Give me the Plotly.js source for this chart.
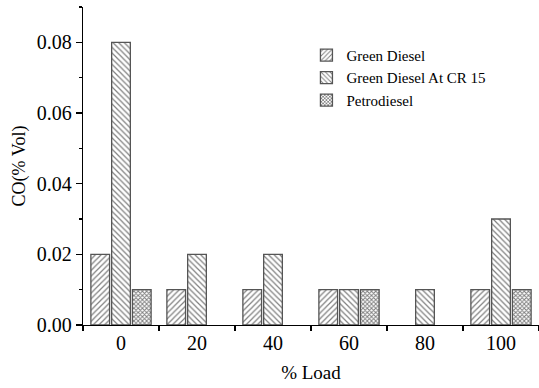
<!DOCTYPE html>
<html>
<head>
<meta charset="utf-8">
<script src="https://cdn.plot.ly/plotly-3.0.1.min.js"></script>
<style>html,body{margin:0;padding:0;background:#fff;}#chart{width:539px;height:388px;}</style>
</head>
<body>
<div id="chart"></div>
<script>
const loads = ['0', '20', '40', '60', '80', '100'];
// null = no bar drawn at that load
const greenDiesel = [0.02, 0.01, 0.01, 0.01, null, 0.01];
const greenDieselCR15 = [0.08, 0.02, 0.02, 0.01, 0.01, 0.03];
const petrodiesel = [0.01, null, null, 0.01, null, 0.01];
const seriesNames = ['Green Diesel', 'Green Diesel At CR 15', 'Petrodiesel'];

function bar(name, y, shape, size, solidity) {
  return {
    type: 'bar', name: name, x: loads, y: y,
    marker: {
      color: 'white',
      line: {color: '#555', width: 1.3},
      pattern: {shape: shape, fgcolor: 'black', bgcolor: 'white', fillmode: 'overlay', size: size, solidity: solidity}
    }
  };
}

const data = [
  bar(seriesNames[0], greenDiesel, '/', 4, 0.3),
  bar(seriesNames[1], greenDieselCR15, '\\', 4, 0.3),
  bar(seriesNames[2], petrodiesel, 'x', 3, 0.55)
];

const font = {family: '"Liberation Serif", "Times New Roman", serif', color: 'black'};

const layout = {
  width: 539, height: 388,
  margin: {l: 83, r: 0, t: 7, b: 63},
  paper_bgcolor: 'white', plot_bgcolor: 'white',
  font: Object.assign({size: 18}, font),
  barmode: 'group', bargap: 0.18, bargroupgap: 0.1,
  showlegend: true,
  legend: {
    x: 0.49, y: 0.9, xanchor: 'left', yanchor: 'top',
    bgcolor: 'rgba(0,0,0,0)', font: Object.assign({size: 15}, font),
    tracegroupgap: 0, itemwidth: 30
  },
  xaxis: {
    type: 'category', tickson: 'boundaries',
    showline: true, linecolor: 'black', linewidth: 1.2,
    ticks: 'outside', ticklen: 5, tickcolor: 'black', tickwidth: 1.2,
    showgrid: false, zeroline: false,
    tickfont: Object.assign({size: 20}, font),
    title: {text: '% Load', font: Object.assign({size: 19}, font), standoff: 12}
  },
  yaxis: {
    range: [0, 0.09], dtick: 0.02, tick0: 0, tickformat: '.2f',
    showline: true, linecolor: 'black', linewidth: 1.2,
    ticks: 'outside', ticklen: 6, tickcolor: 'black', tickwidth: 1.2,
    minor: {dtick: 0.01, ticks: 'outside', ticklen: 3, tickcolor: 'black', tickwidth: 1.2, showgrid: false},
    showgrid: false, zeroline: false,
    tickfont: Object.assign({size: 20}, font),
    title: {text: 'CO(% Vol)', font: Object.assign({size: 18}, font), standoff: 6}
  }
};

Plotly.newPlot('chart', data, layout, {displayModeBar: false, staticPlot: true});
</script>
</body>
</html>
